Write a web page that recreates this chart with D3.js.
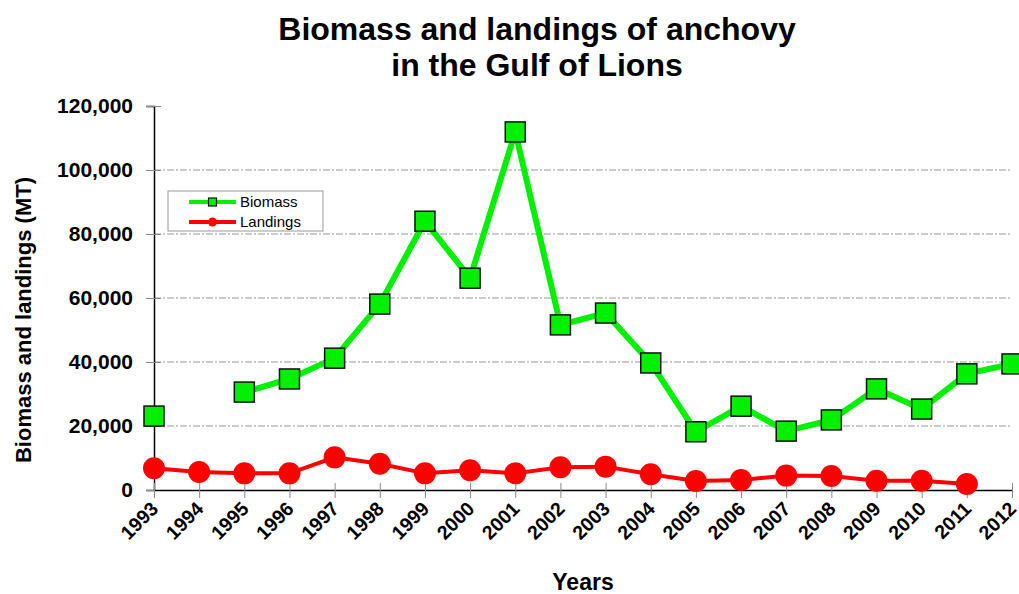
<!DOCTYPE html>
<html><head><meta charset="utf-8">
<script src="https://cdn.jsdelivr.net/npm/d3@7/dist/d3.min.js"></script>
<style>body{margin:0;background:#fff;} text{font-family:"Liberation Sans",Arial,sans-serif;}</style>
</head><body><svg id="c" width="1019" height="594"></svg>
<script>
const years = [1993,1994,1995,1996,1997,1998,1999,2000,2001,2002,2003,2004,2005,2006,2007,2008,2009,2010,2011,2012];
const biomass = [23100,null,30600,34700,41200,58100,84000,66200,111900,51600,55300,39700,18200,26200,18400,21900,31600,25300,36300,39400];
const landings = [6800,5600,5200,5200,10200,8200,5200,6200,5200,7100,7300,4900,2800,3100,4500,4400,2900,2900,1900,null];
const yTicks = [0,20000,40000,60000,80000,100000,120000];
const gridVals = [20000,40000,60000,80000,100000];

const svg = d3.select("#c");
const x = d3.scaleLinear().domain([1993,2012]).range([154,1012]);
const y = d3.scaleLinear().domain([0,120000]).range([490,106]);
const FF = "Liberation Sans, Arial, sans-serif";

// title
svg.append("text").attr("x",537).attr("y",40).attr("text-anchor","middle").attr("font-size",32).attr("font-weight","bold").text("Biomass and landings of anchovy");
svg.append("text").attr("x",537).attr("y",76).attr("text-anchor","middle").attr("font-size",32).attr("font-weight","bold").text("in the Gulf of Lions");

// grid
svg.append("g").selectAll("line").data(gridVals).join("line")
  .attr("x1",154).attr("x2",1012).attr("y1",d=>y(d)).attr("y2",d=>y(d))
  .attr("stroke","#999").attr("stroke-width",1).attr("stroke-dasharray","7,2,2,2");

// y axis
const ya = svg.append("g").attr("transform","translate(154,0)")
  .call(d3.axisLeft(y).tickValues(yTicks).tickFormat(d3.format(",")).tickSize(8).tickPadding(13));
ya.select(".domain").attr("stroke","#000").attr("stroke-width",1.5);
ya.selectAll(".tick line").attr("stroke","#888").attr("x1",7);
ya.selectAll("text").attr("font-size",21).attr("font-weight","bold").attr("font-family",FF).attr("fill","#000");

// x axis
const xa = svg.append("g").attr("transform","translate(0,490)")
  .call(d3.axisBottom(x).tickValues(years).tickFormat(d3.format("d")).tickSize(8).tickSizeOuter(0));
xa.select(".domain").attr("stroke","#000").attr("stroke-width",1.5);
xa.selectAll(".tick line").attr("stroke","#888").attr("y1",-7);
xa.selectAll("text").attr("font-size",19.5).attr("font-weight","bold").attr("font-family",FF).attr("fill","#000")
  .attr("text-anchor","end").attr("x",0).attr("y",0).attr("dy",0).attr("dx",0)
  .attr("transform","translate(5,20) rotate(-45)");

// axis titles
svg.append("text").attr("transform","translate(31,320) rotate(-90)").attr("text-anchor","middle").attr("font-size",22).attr("font-weight","bold").text("Biomass and landings (MT)");
svg.append("text").attr("x",583).attr("y",590).attr("text-anchor","middle").attr("font-size",23).attr("font-weight","bold").text("Years");

// lines and markers
const bData = years.map((yr,i)=>({yr,v:biomass[i]}));
const lData = years.map((yr,i)=>({yr,v:landings[i]}));
const line = d3.line().defined(d=>d.v!=null).x(d=>x(d.yr)).y(d=>y(d.v));

svg.append("path").datum(lData).attr("d",line).attr("fill","none").attr("stroke","#ff0000").attr("stroke-width",4);
svg.append("g").selectAll("circle").data(lData.filter(d=>d.v!=null)).join("circle")
  .attr("cx",d=>x(d.yr)).attr("cy",d=>y(d.v)).attr("r",11).attr("fill","#ff0000");

svg.append("path").datum(bData).attr("d",line).attr("fill","none").attr("stroke","#00f000").attr("stroke-width",6);
svg.append("g").selectAll("rect").data(bData.filter(d=>d.v!=null)).join("rect")
  .attr("x",d=>x(d.yr)-10).attr("y",d=>y(d.v)-10).attr("width",20).attr("height",20)
  .attr("fill","#00f000").attr("stroke","#111").attr("stroke-width",1.5);

// legend
const lg = svg.append("g");
lg.append("rect").attr("x",168).attr("y",191).attr("width",155).attr("height",40).attr("fill","#fff").attr("stroke","#999").attr("stroke-width",1);
lg.append("line").attr("x1",189).attr("x2",236).attr("y1",202).attr("y2",202).attr("stroke","#00f000").attr("stroke-width",4);
lg.append("rect").attr("x",208.5).attr("y",198).attr("width",8).attr("height",8).attr("fill","#00f000").attr("stroke","#111").attr("stroke-width",1.2);
lg.append("text").attr("x",240).attr("y",207).attr("font-size",15).text("Biomass");
lg.append("line").attr("x1",189).attr("x2",236).attr("y1",222).attr("y2",222).attr("stroke","#ff0000").attr("stroke-width",4);
lg.append("circle").attr("cx",212.5).attr("cy",222).attr("r",4.5).attr("fill","#ff0000");
lg.append("text").attr("x",240).attr("y",227).attr("font-size",15).text("Landings");
</script></body></html>
